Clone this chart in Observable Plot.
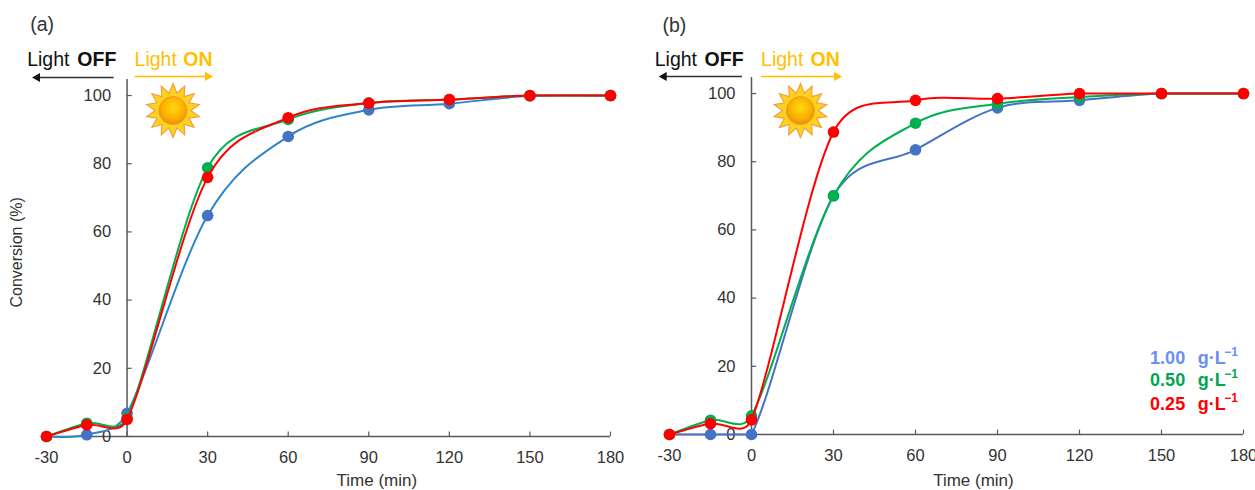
<!DOCTYPE html>
<html>
<head>
<meta charset="utf-8">
<script src="https://cdn.jsdelivr.net/npm/d3@7"></script>
<script src="https://cdn.jsdelivr.net/npm/@observablehq/plot@0.6"></script>
<style>
html,body{margin:0;padding:0;background:#fff;width:1255px;height:490px;overflow:hidden}
#a,#b{position:absolute;top:0}
#a{left:0}#b{left:627px}
svg{overflow:visible;background:transparent!important}
</style>
</head>
<body>
<div id="a"></div><div id="b"></div>
<script>
const times = [-30,-15,0,30,60,90,120,150,180];
const xTicks = [-30,0,30,60,90,120,150,180];
const yTicks = [0,20,40,60,80,100];
const aBlue  = [0,0.5,6.8,64.8,88,95.8,97.6,99.9,100];
const aGreen = [0,3.9,5.5,78.8,93,97.8,98.8,100,100];
const aRed   = [0,3.4,5,76,93.5,97.8,98.8,100,100];
const bBlue  = [0,0,0,70,83.5,95.8,98,100,100];
const bGreen = [0,4.2,5.5,70,91.3,97,99,100,100];
const bRed   = [0,3.2,4.3,88.7,98,98.5,100,100,100];
const legendLabels = ["1.00\u2002\u2009g·L","0.50\u2002\u2009g·L","0.25\u2002\u2009g·L"];
const legendY = [22.5,15.8,9.0];
const legendColors = ["#6C8EF2","#00A650","#FF0000"];
const TEXT="#333333", AXIS="#595959", GOLD="#FFC000";
// Spreadsheet-style smoothing: control arm is a sixth of the neighbour chord, capped at half the segment.
// A level segment stays level.
function smoothCurve(context){
  let pts=[];
  return {
    areaStart(){},areaEnd(){},
    lineStart(){pts=[];},
    point(x,y){pts.push([+x,+y]);},
    lineEnd(){
      const n=pts.length; if(!n) return;
      context.moveTo(pts[0][0],pts[0][1]);
      const at=i=>pts[Math.max(0,Math.min(n-1,i))];
      const arm=(prev,next,seg)=>{
        let dx=(next[0]-prev[0])/6, dy=(next[1]-prev[1])/6;
        const len=Math.hypot(dx,dy), cap=seg/2;
        if(len>cap&&len>0){dx*=cap/len;dy*=cap/len;}
        return [dx,dy];
      };
      for(let i=0;i<n-1;i++){
        const p1=at(i),p2=at(i+1),seg=Math.hypot(p2[0]-p1[0],p2[1]-p1[1]);
        if(Math.abs(p2[1]-p1[1])<0.01){context.lineTo(p2[0],p2[1]);continue;}
        const a1=arm(at(i-1),p2,seg), a2=arm(p1,at(i+2),seg);
        context.bezierCurveTo(p1[0]+a1[0],p1[1]+a1[1],p2[0]-a2[0],p2[1]-a2[1],p2[0],p2[1]);
      }
    }
  };
}
const sunSymbol = {draw(ctx,size){
  const R=Math.sqrt(size/Math.PI), n=14;
  for(let i=0;i<n*2;i++){
    const a=Math.PI*i/n-Math.PI/2, r=i%2===0?R:R*0.66;
    const x=r*Math.cos(a), y=r*Math.sin(a);
    i===0?ctx.moveTo(x,y):ctx.lineTo(x,y);
  }
  ctx.closePath();
}};
function panel(cfg){
  const mk=(vals,c,extra={})=>[
    Plot.line(times.map((t,i)=>({t,v:vals[i]})),{x:"t",y:"v",stroke:c,strokeWidth:2,curve:smoothCurve}),
    Plot.dot(times.map((t,i)=>({t,v:vals[i]})),{x:"t",y:"v",fill:extra.dot||c,r:5.8})
  ];
  const txt=(s,x,y,o={})=>Plot.text([s],{x:()=>x,y:()=>y,text:d=>d,fontSize:19.5,fill:"#111",lineAnchor:"middle",...o});
  const ann=cfg.ann;
  const marks=[
    Plot.ruleX([0],{stroke:AXIS,strokeWidth:1.5}),
    Plot.ruleY([0],{stroke:AXIS,strokeWidth:1.5}),
    Plot.ruleX(xTicks,{x:d=>d,y1:0,y2:1.3,stroke:AXIS,strokeWidth:1.2}),
    Plot.ruleY(yTicks,{y:d=>d,x1:0,x2:1.9,stroke:AXIS,strokeWidth:1.2}),
    Plot.text(xTicks,{x:d=>d,y:()=>0,text:d=>String(d),dy:21,fontSize:16.5,fill:TEXT,lineAnchor:"middle"}),
    Plot.text(yTicks,{x:()=>0,y:d=>d,text:d=>String(d),dx:-16,textAnchor:"end",fontSize:16.5,fill:TEXT,lineAnchor:"middle"}),
    txt(cfg.name,ann.nameX,ann.nameY,{fill:"#333"}),
    txt("Light",ann.offStart,ann.textY,{textAnchor:"start"}),
    txt("OFF",ann.offEnd,ann.textY,{textAnchor:"end",fontWeight:"bold"}),
    txt("Light",ann.onStart,ann.textY,{textAnchor:"start",fill:GOLD}),
    txt("ON",ann.onEnd,ann.textY,{textAnchor:"end",fontWeight:"bold",fill:GOLD}),
    Plot.ruleY([ann.offArrowY],{x1:ann.offArrow[0],x2:ann.offArrow[1],stroke:"#333",strokeWidth:1.4}),
    Plot.dot([0],{x:()=>ann.offArrow[1],y:()=>ann.offArrowY,symbol:"triangle",r:3.4,fill:"#111",rotate:-90}),
    Plot.ruleY([ann.onArrowY],{x1:ann.onArrow[0],x2:ann.onArrow[1],stroke:GOLD,strokeWidth:1.4}),
    Plot.dot([0],{x:()=>ann.onArrow[1],y:()=>ann.onArrowY,symbol:"triangle",r:3.4,fill:GOLD,rotate:90}),
    Plot.dot([0],{x:()=>ann.sunX,y:()=>ann.sunY,symbol:sunSymbol,r:27,fill:"#FFD21F",stroke:"#F0A040",strokeWidth:1.2}),
    Plot.dot([0],{x:()=>ann.sunX,y:()=>ann.sunY,r:14,fill:`url(#sun-${cfg.name[1]})`,stroke:"#F09A20",strokeWidth:1}),
    Plot.text(["Time (min)"],{x:()=>ann.timeX,y:()=>ann.timeY,text:d=>d,fontSize:17,fill:TEXT,lineAnchor:"middle"}),
    ...mk(cfg.blue,cfg.blueLine,{dot:"#4472C4"}),
    ...mk(cfg.green,"#00B050"),
    ...mk(cfg.red,"#FF0000")
  ];
  if(cfg.yLabel) marks.push(Plot.text([cfg.yLabel],{x:()=>-40.9,y:()=>54,text:d=>d,rotate:-90,fontSize:16,fill:TEXT,lineAnchor:"middle"}));
  if(cfg.legend){
    marks.push(Plot.text(legendLabels,{x:()=>173.5,y:(d,i)=>legendY[i],text:d=>d,fill:(d,i)=>legendColors[i],textAnchor:"end",fontSize:18,fontWeight:"bold",lineAnchor:"middle"}));
    marks.push(Plot.text(legendLabels,{x:()=>178,y:(d,i)=>legendY[i],text:()=>"−1",fill:(d,i)=>legendColors[i],textAnchor:"end",fontSize:12,fontWeight:"bold",lineAnchor:"middle",dy:-6}));
  }
  const p=Plot.plot({
    width:cfg.width,height:490,
    marginLeft:cfg.ml,marginRight:cfg.mr,marginTop:cfg.mt,marginBottom:cfg.mb,
    style:{fontFamily:"'Liberation Sans',Arial,sans-serif",background:"transparent",overflow:"visible"},
    x:{domain:[-30,180],axis:null},
    y:{domain:[0,104.7],axis:null},
    marks
  });
  p.insertAdjacentHTML("afterbegin",`<defs><radialGradient id="sun-${cfg.name[1]}" cx="50%" cy="40%" r="60%"><stop offset="0%" stop-color="#FFD810"/><stop offset="65%" stop-color="#F9B000"/><stop offset="100%" stop-color="#EE8C10"/></radialGradient></defs>`);
  return p;
}
document.getElementById("a").append(panel({
  name:"(a)",width:627,ml:46,mr:17,mt:79,mb:54,blue:aBlue,green:aGreen,red:aRed,blueLine:"#2E86C8",yLabel:"Conversion (%)",
  ann:{nameX:-31.6,nameY:120.8,offStart:-37.2,offEnd:-4,onStart:2.8,onEnd:31.8,textY:110.6,offArrow:[-4.8,-33.4],offArrowY:105.3,onArrow:[3,30],onArrowY:105.6,sunX:17.1,sunY:95.6,timeX:93,timeY:-13}
}));
document.getElementById("b").append(panel({
  name:"(b)",width:628,ml:42,mr:12,mt:77,mb:56,blue:bBlue,green:bGreen,red:bRed,blueLine:"#4472C4",legend:true,
  ann:{nameX:-28.2,nameY:120,offStart:-35.4,offEnd:-2.9,onStart:3.5,onEnd:32.3,textY:110,offArrow:[-3.3,-32],offArrowY:105,onArrow:[3.7,31.2],onArrowY:105,sunX:17.9,sunY:95,timeX:81.2,timeY:-13.5}
}));
</script>
</body>
</html>
